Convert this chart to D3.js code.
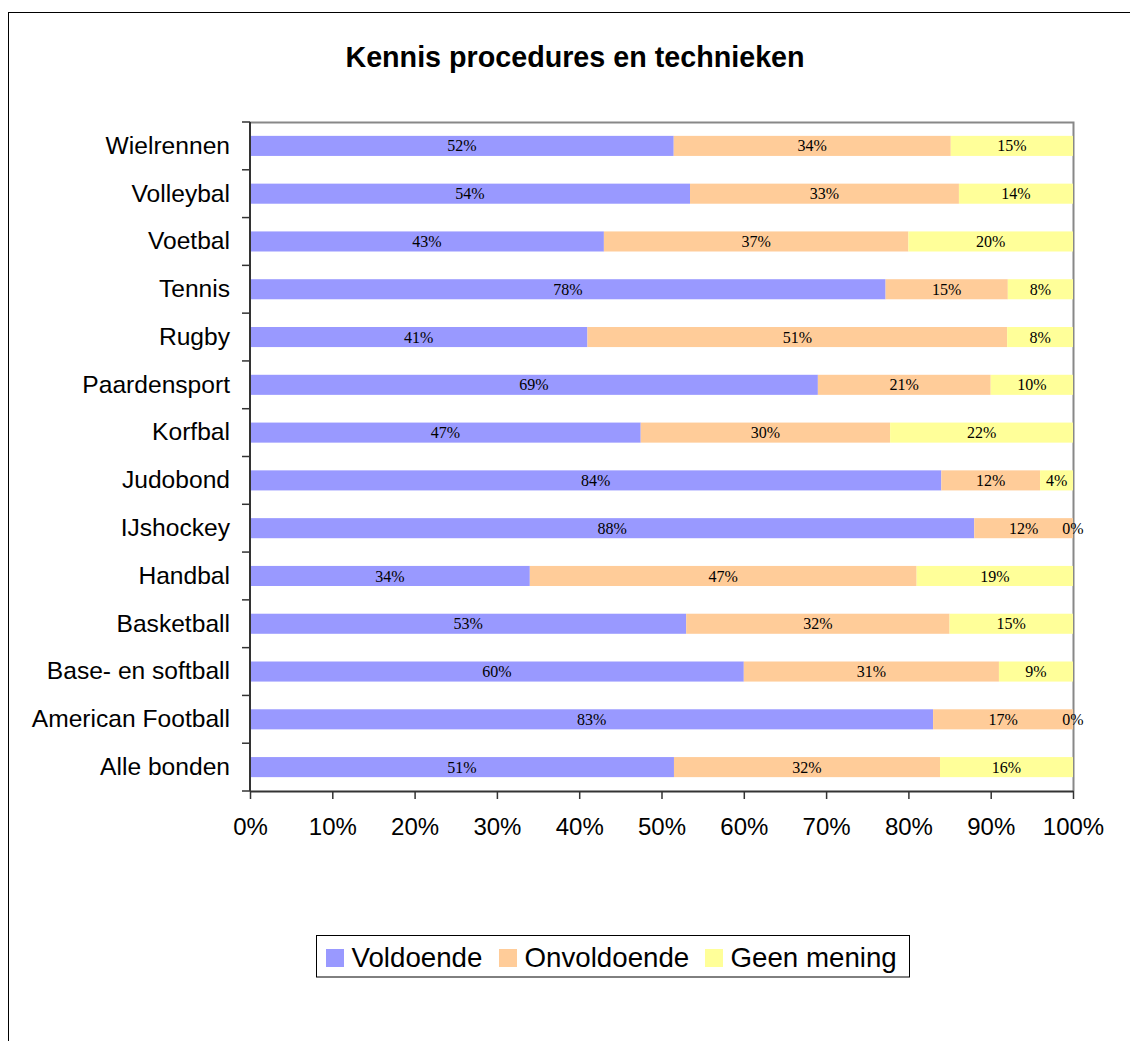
<!DOCTYPE html>
<html>
<head>
<meta charset="utf-8">
<script src="https://cdn.jsdelivr.net/npm/d3@7"></script>
<style>
  html, body { margin: 0; padding: 0; background: #fff; }
  svg { display: block; }
</style>
</head>
<body>
<div id="chart"></div>
<script>
// Sports federations, top to bottom
const categories = [
  "Wielrennen", "Volleybal", "Voetbal", "Tennis", "Rugby", "Paardensport",
  "Korfbal", "Judobond", "IJshockey", "Handbal", "Basketball",
  "Base- en softball", "American Football", "Alle bonden"
];
const seriesNames = ["Voldoende", "Onvoldoende", "Geen mening"];
// Percentages per answer, in category order
const voldoende   = [52, 54, 43, 78, 41, 69, 47, 84, 88, 34, 53, 60, 83, 51];
const onvoldoende = [34, 33, 37, 15, 51, 21, 30, 12, 12, 47, 32, 31, 17, 32];
const geenMening  = [15, 14, 20,  8,  8, 10, 22,  4,  0, 19, 15,  9,  0, 16];
const xTicks = [0, 0.1, 0.2, 0.3, 0.4, 0.5, 0.6, 0.7, 0.8, 0.9, 1];
const colors = ["#9999FF", "#FFCC99", "#FFFF99"];

const W = 1130, H = 1041;
const plot = { left: 250, top: 122, right: 1073, bottom: 791 };

const rows = categories.map((c, i) => ({
  cat: c,
  "Voldoende": voldoende[i],
  "Onvoldoende": onvoldoende[i],
  "Geen mening": geenMening[i]
}));

const stacked = d3.stack().keys(seriesNames).offset(d3.stackOffsetExpand)(rows);

const svg = d3.select("#chart").append("svg")
  .attr("width", W).attr("height", H);

// outer chart frame
svg.append("rect")
  .attr("x", 8.5).attr("y", 12.5)
  .attr("width", W + 20).attr("height", H + 20)
  .attr("fill", "none").attr("stroke", "#000").attr("stroke-width", 1);

// title
svg.append("text")
  .attr("x", 575).attr("y", 67)
  .attr("text-anchor", "middle")
  .attr("font-family", "Liberation Sans, Arial, sans-serif")
  .attr("font-weight", "bold").attr("font-size", 28.7)
  .text("Kennis procedures en technieken");

const x = d3.scaleLinear().domain([0, 1]).range([plot.left, plot.right]);
const y = d3.scaleBand().domain(categories)
  .range([plot.top, plot.bottom]).paddingInner(0.58).paddingOuter(0.29);

// plot area border (top and right in grey)
svg.append("path")
  .attr("d", `M${plot.left},${plot.top + 0.5}H${plot.right + 0.5}V${plot.bottom}`)
  .attr("fill", "none").attr("stroke", "#888").attr("stroke-width", 2);

// bars
const layer = svg.append("g").selectAll("g").data(stacked).join("g")
  .attr("fill", (d, i) => colors[i]);
layer.selectAll("rect").data(d => d).join("rect")
  .attr("x", d => x(d[0]))
  .attr("y", d => y(d.data.cat))
  .attr("width", d => x(d[1]) - x(d[0]))
  .attr("height", y.bandwidth());

// value labels
const lbl = svg.append("g")
  .attr("font-family", "Liberation Serif, Times New Roman, serif")
  .attr("font-size", 16).attr("fill", "#000").attr("text-anchor", "middle");
stacked.forEach(s => {
  lbl.selectAll(null).data(s).join("text")
    .attr("x", d => (x(d[0]) + x(d[1])) / 2)
    .attr("y", d => y(d.data.cat) + y.bandwidth() / 2)
    .attr("dy", "0.35em")
    .text(d => d.data[s.key] + "%");
});

// x axis
const xAxis = svg.append("g")
  .attr("transform", `translate(0,${plot.bottom})`)
  .call(d3.axisBottom(x).tickValues(xTicks).tickFormat(d3.format(".0%"))
    .tickSize(8).tickPadding(19).tickSizeOuter(0));
xAxis.select(".domain").attr("stroke", "#333").attr("stroke-width", 2);
xAxis.selectAll(".tick line").attr("stroke", "#333").attr("stroke-width", 1.5);
xAxis.selectAll("text")
  .attr("font-family", "Liberation Sans, Arial, sans-serif")
  .attr("font-size", 24).attr("fill", "#000");

// y axis: labels at band centres, ticks at band boundaries
const yAxis = svg.append("g")
  .attr("transform", `translate(${plot.left},0)`)
  .call(d3.axisLeft(y).tickSize(0).tickPadding(20));
yAxis.select(".domain").remove();
yAxis.selectAll("text")
  .attr("font-family", "Liberation Sans, Arial, sans-serif")
  .attr("font-size", 24.6).attr("fill", "#000");

const boundaries = d3.range(categories.length + 1)
  .map(i => plot.top + i * y.step());
svg.append("g").selectAll("line").data(boundaries).join("line")
  .attr("x1", plot.left - 8).attr("x2", plot.left)
  .attr("y1", d => d).attr("y2", d => d)
  .attr("stroke", "#333").attr("stroke-width", 1.5);
svg.append("line")
  .attr("x1", plot.left).attr("x2", plot.left)
  .attr("y1", plot.top).attr("y2", plot.bottom)
  .attr("stroke", "#333").attr("stroke-width", 2);

// legend
const legend = svg.append("g");
legend.append("rect")
  .attr("x", 316.5).attr("y", 935.5).attr("width", 593).attr("height", 41.5)
  .attr("fill", "#fff").attr("stroke", "#000").attr("stroke-width", 1);
const legendX = [326, 499, 705];
seriesNames.forEach((name, i) => {
  legend.append("rect")
    .attr("x", legendX[i]).attr("y", 949)
    .attr("width", 18).attr("height", 18)
    .attr("fill", colors[i]);
  legend.append("text")
    .attr("x", legendX[i] + 25.5).attr("y", 967)
    .attr("font-family", "Liberation Sans, Arial, sans-serif")
    .attr("font-size", 27.7).attr("fill", "#000")
    .text(name);
});
</script>
</body>
</html>
